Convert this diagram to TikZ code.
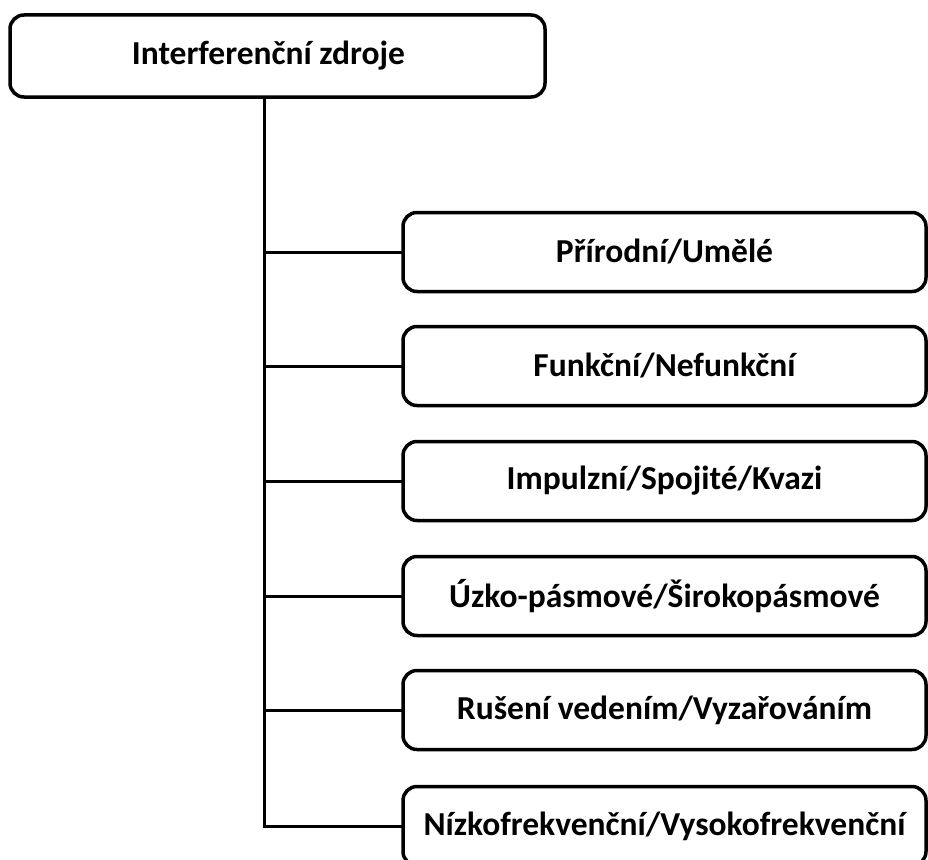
\documentclass[tikz,border=0pt]{standalone}
\usepackage{fontspec}
\setmainfont{Carlito}
\begin{document}
\begin{tikzpicture}[x=1pt,y=-1pt,
  box/.style={draw=black,line width=3.5pt,rounded corners=14pt,fill=white,
    font=\fontsize{33.5}{40}\selectfont\bfseries,inner sep=0pt,outer sep=0pt},
  topbox/.style={box,minimum width=535pt,minimum height=82pt},
  childbox/.style={box,minimum width=523pt,minimum height=79pt},
  conn/.style={draw=black,line width=3pt}]
\useasboundingbox (0,0) rectangle (928,859);
\clip (0,0) rectangle (928,859);
\fill[white] (0,0) rectangle (928,859);
\node[topbox] (top) at (277.5,56) {Interferenční zdroje\hspace*{18pt}};
\node[childbox] (c1) at (664.5,252) {Přírodní/Umělé};
\node[childbox] (c2) at (664.5,366) {Funkční/Nefunkční};
\node[childbox] (c3) at (664.5,481) {Impulzní/Spojité/Kvazi};
\node[childbox] (c4) at (664.5,596) {Úzko-pásmové/Širokopásmové};
\node[childbox] (c5) at (664.5,710) {Rušení vedením/Vyzařováním};
\node[childbox] (c6) at (664.5,826) {Nízkofrekvenční/Vysokofrekvenční};
\coordinate (tx) at (264,0);
\draw[conn] (top.south -| tx) -- (tx |- c6.west) -- (c6.west);
\foreach \i in {1,...,5}{
  \draw[conn] (tx |- c\i.west) -- (c\i.west);
}
\end{tikzpicture}
\end{document}
